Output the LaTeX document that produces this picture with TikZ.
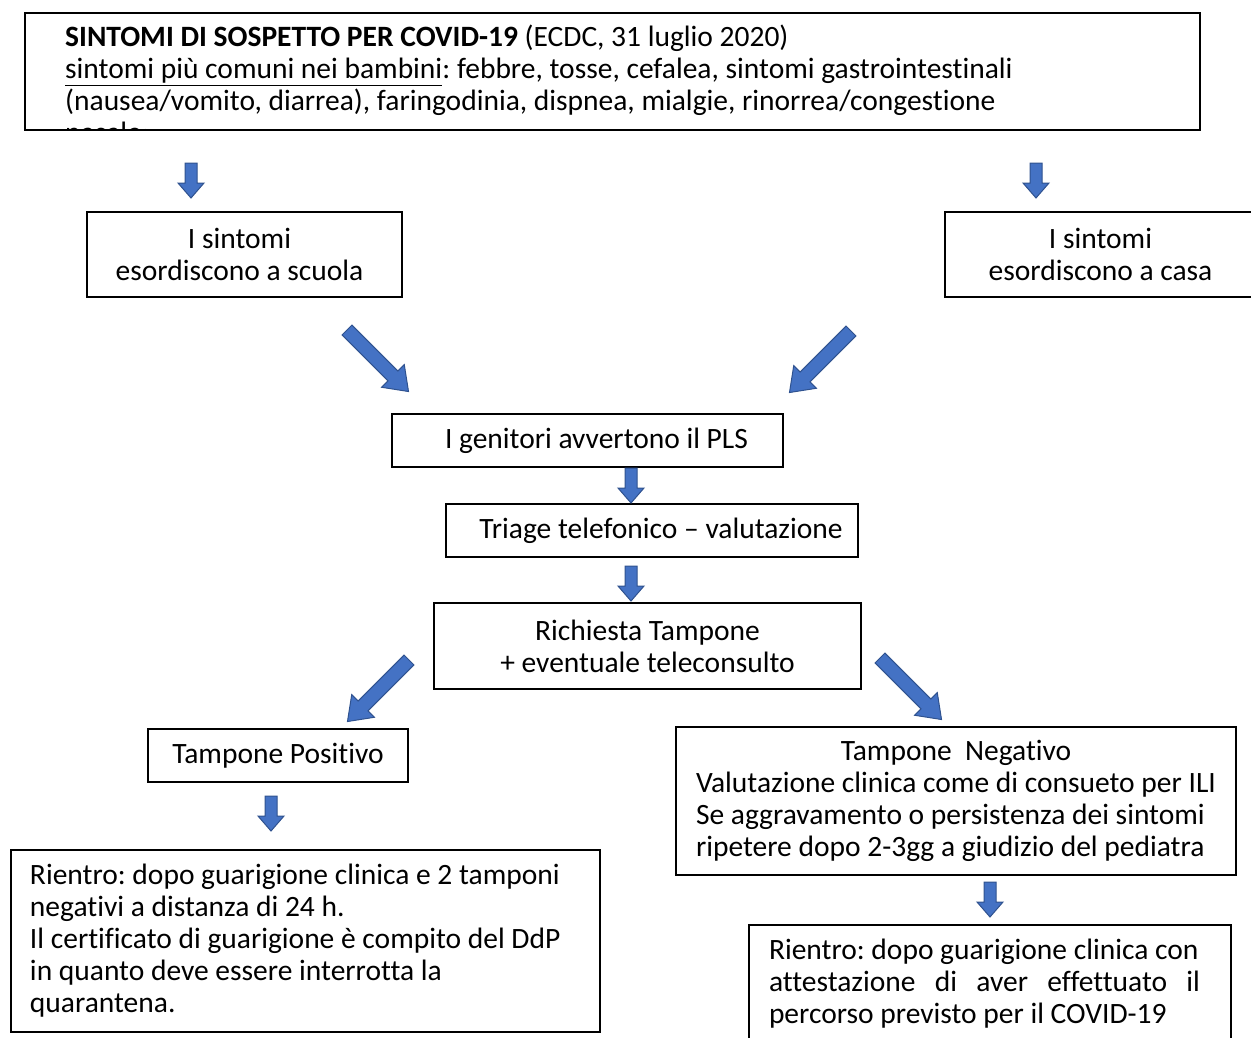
\documentclass[tikz,border=0pt]{standalone}
\usepackage{fontspec}
\setmainfont{Carlito}[Ligatures={TeX,NoCommon}]
\definecolor{arrfill}{HTML}{4472C4}
\definecolor{arrline}{HTML}{2F528F}
\newcommand\boxfont{\fontsize{29.5}{32}\selectfont\frenchspacing}
\tikzset{
 box/.style={draw=black, line width=1.3pt, rectangle, inner sep=0pt, font=\boxfont},
 blockarrow/.style={fill=arrfill, draw=arrline, line width=1pt, line join=miter},
}
\newcommand\downblk[2]{%
 \begin{scope}[shift={(#1,#2)}, rotate=-90]
 \draw[blockarrow] (0,-6) -- (20,-6) -- (20,-13) -- (35,0) -- (20,13) -- (20,6) -- (0,6) -- cycle;
 \end{scope}}
\newcommand\diagblk[3]{%
 \begin{scope}[shift={(#1,#2)}, rotate=#3]
 \draw[blockarrow] (0,-7) -- (65,-7) -- (65,-16) -- (87,0) -- (65,16) -- (65,7) -- (0,7) -- cycle;
 \end{scope}}
\begin{document}
\begin{tikzpicture}[x=1pt,y=-1pt]
\useasboundingbox (0,0) rectangle (1251,1037);
\clip (0,0) rectangle (1251,1037);
% top box
\node[box, minimum width=1175, minimum height=117] (top) at (612.5,71.5) {};
\begin{scope}
\clip (25,13) rectangle (1200,130);
\node[anchor=north west, inner sep=0pt, align=left, font=\boxfont] (toptext) at (65,25)
 {\textbf{SINTOMI DI SOSPETTO PER COVID-19} (ECDC, 31 luglio 2020)\\
  \underline{sintomi più comuni nei bambini}: febbre, tosse, cefalea, sintomi gastrointestinali\\
  (nausea/vomito, diarrea), faringodinia, dispnea, mialgie, rinorrea/congestione\\
  nasale;};
\end{scope}
\node[box, minimum width=315, minimum height=85, align=center] (scuola) at (244.5,254.5) {I sintomi\hspace*{10pt}\\esordiscono a scuola\hspace*{10pt}};
\node[box, minimum width=311, minimum height=85, align=center] (casa) at (1100.5,254.5) {I sintomi\\esordiscono a casa};
\node[box, minimum width=391, minimum height=53] (genitori) at (587.5,440.5) {\hspace*{18pt}I genitori avvertono il PLS};
\node[box, minimum width=412, minimum height=53] (triage) at (652,530.5) {\hspace*{18pt}Triage telefonico – valutazione};
\node[box, minimum width=427, minimum height=86, align=center] (richiesta) at (647.5,646) {Richiesta Tampone\\+ eventuale teleconsulto};
\node[box, minimum width=260, minimum height=53] (positivo) at (278,755.5) {Tampone Positivo};
\node[box, minimum width=560, minimum height=148, align=left] (negativo) at (956,801)
 {\makebox[520pt][c]{Tampone\ \ Negativo}\\
  \mbox{Valutazione clinica come di consueto per ILI}\\
  \mbox{Se aggravamento o persistenza dei sintomi}\\
  \mbox{ripetere dopo 2-3gg a giudizio del pediatra}};
\node[box, minimum width=589, minimum height=182, align=flush left, text width=551pt, inner xsep=19pt] (rientroA) at (305.5,941)
 {\mbox{Rientro: dopo guarigione clinica e 2 tamponi}\\
  \mbox{negativi a distanza di 24 h.}\\
  \mbox{Il certificato di guarigione è compito del DdP}\\
  \mbox{in quanto deve essere interrotta la}\\
  \mbox{quarantena.}};
\node[box, minimum width=482, minimum height=118, align=flush left, text width=442pt, inner xsep=20pt] (rientroB) at (990,984)
 {\mbox{Rientro: dopo guarigione clinica con}\\
  \leavevmode\hbox to 431pt{attestazione\hfill di\hfill aver\hfill effettuato\hfill il}\\
  \mbox{percorso previsto per il COVID-19}};
% arrows
\downblk{191}{163}
\downblk{1036}{163}
\downblk{631}{468}
\downblk{631}{566}
\downblk{271}{796}
\downblk{990}{882}
\diagblk{347}{330}{-45}
\diagblk{851}{331}{-135}
\diagblk{409}{660}{-135}
\diagblk{880}{658}{-45}
\end{tikzpicture}
\end{document}
